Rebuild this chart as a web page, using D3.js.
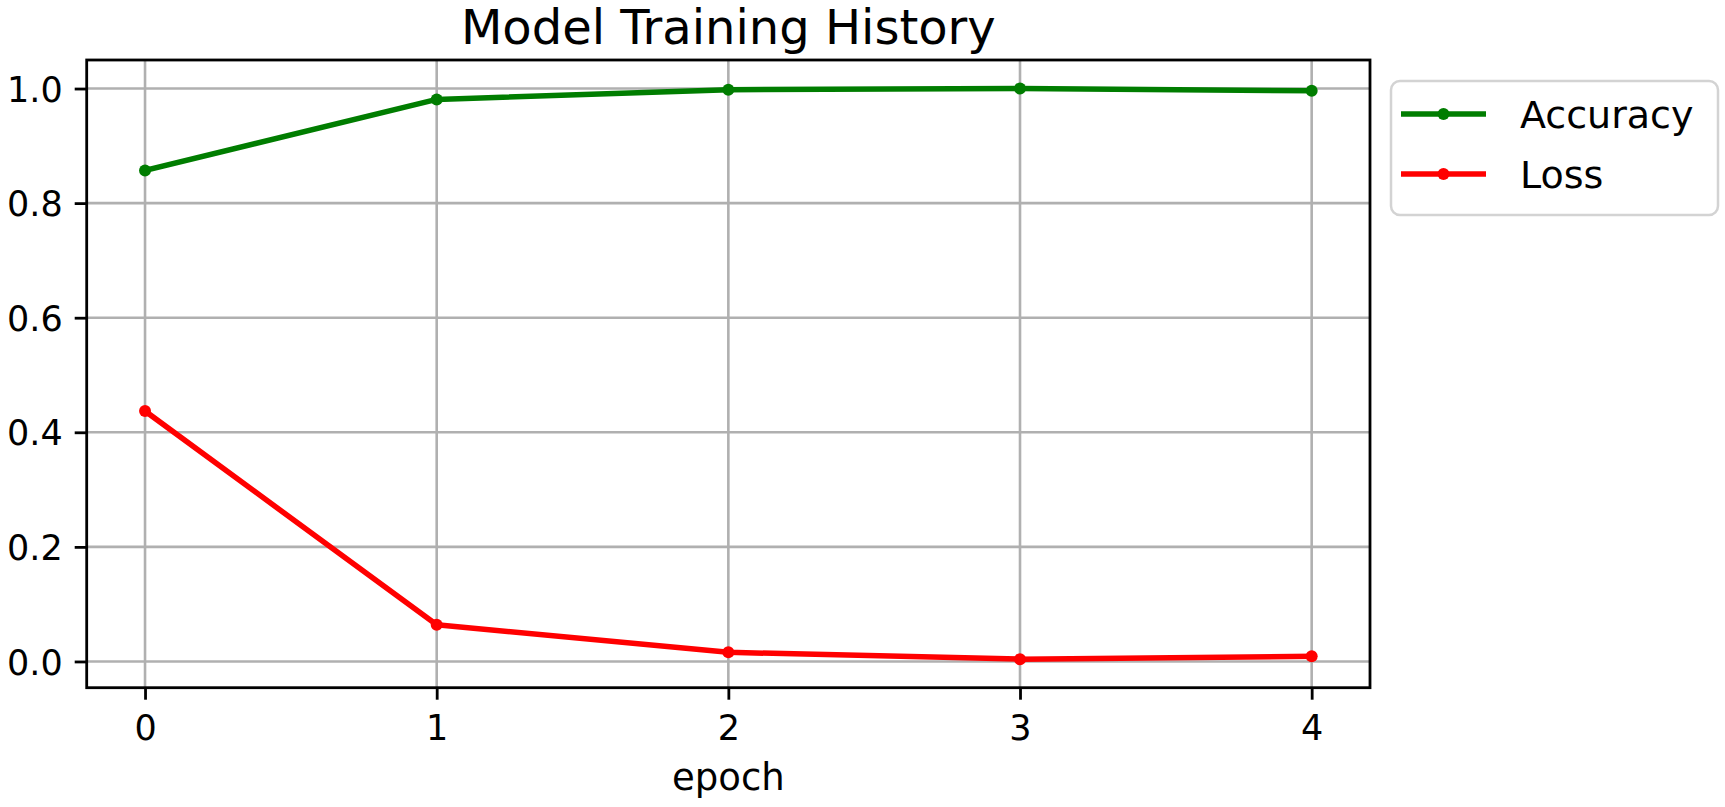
<!DOCTYPE html>
<html><head><meta charset="utf-8">
<script src="https://cdn.jsdelivr.net/npm/d3@7"></script>
<style>
body{margin:0;background:#fff}
svg{display:block}
text{font-family:"DejaVu Sans",sans-serif;fill:#000}
</style>
</head><body><svg id="chart" width="1725" height="807"></svg>
<script>
// ---- data ----
const chartTitle = "Model Training History";
const xLabel = "epoch";
const epochs = [0, 1, 2, 3, 4];
const accuracy = [0.857, 0.981, 0.998, 1.000, 0.996];
const loss = [0.437, 0.064, 0.016, 0.004, 0.009];
const seriesNames = ["Accuracy", "Loss"];
const seriesColors = ["#007d00", "#ff0000"];
const xTicks = [0, 1, 2, 3, 4];
const yTicks = [0.0, 0.2, 0.4, 0.6, 0.8, 1.0];

// ---- layout ----
const m = {left: 86.7, right: 1370, top: 60, bottom: 687.7};
const svg = d3.select("#chart");
svg.append("rect").attr("width", 1725).attr("height", 807).attr("fill", "#fff");

const [yMin, yMax] = d3.extent(accuracy.concat(loss));
const yPad = (yMax - yMin) * 0.05;
const [xMin, xMax] = d3.extent(epochs);
const xPad = (xMax - xMin) * 0.05;
const x = d3.scaleLinear().domain([xMin - xPad, xMax + xPad]).range([m.left, m.right]);
const y = d3.scaleLinear().domain([yMin - yPad, yMax + yPad]).range([m.bottom, m.top]);

const gridColor = "#b0b0b0", gridW = 2.6;

// grid
const grid = svg.append("g");
grid.selectAll("line.v").data(xTicks).join("line")
  .attr("x1", d => x(d)).attr("x2", d => x(d))
  .attr("y1", m.top).attr("y2", m.bottom)
  .attr("stroke", gridColor).attr("stroke-width", gridW);
grid.selectAll("line.h").data(yTicks).join("line")
  .attr("y1", d => y(d)).attr("y2", d => y(d))
  .attr("x1", m.left).attr("x2", m.right)
  .attr("stroke", gridColor).attr("stroke-width", gridW);

// series
const series = [accuracy, loss];
const lineGen = d3.line().x((d, i) => x(epochs[i])).y(d => y(d));
series.forEach((vals, si) => {
  svg.append("path").datum(vals)
    .attr("d", lineGen)
    .attr("fill", "none")
    .attr("stroke", seriesColors[si])
    .attr("stroke-width", 5.5)
    .attr("stroke-linejoin", "round")
    .attr("stroke-linecap", "square");
  svg.append("g").selectAll("circle").data(vals).join("circle")
    .attr("cx", (d, i) => x(epochs[i]))
    .attr("cy", d => y(d))
    .attr("r", 6)
    .attr("fill", seriesColors[si]);
});

// axes
const fs = 35;
const yAxis = svg.append("g").attr("transform", `translate(${m.left},0)`)
  .call(d3.axisLeft(y).tickValues(yTicks).tickFormat(d3.format(".1f")).tickSize(12).tickPadding(12));
yAxis.select(".domain").remove();
yAxis.selectAll(".tick line").attr("stroke", "#000").attr("stroke-width", 2.8);
yAxis.selectAll(".tick text").attr("font-size", fs).attr("dy", "0.36em")
  .style("font-family", "DejaVu Sans");

const xAxis = svg.append("g").attr("transform", `translate(0,${m.bottom})`)
  .call(d3.axisBottom(x).tickValues(xTicks).tickFormat(d3.format("d")).tickSize(12).tickPadding(15));
xAxis.select(".domain").remove();
xAxis.selectAll(".tick line").attr("stroke", "#000").attr("stroke-width", 2.8);
xAxis.selectAll(".tick text").attr("font-size", fs).attr("dy", "0.71em")
  .style("font-family", "DejaVu Sans");

// spines
svg.append("rect")
  .attr("x", m.left).attr("y", m.top)
  .attr("width", m.right - m.left).attr("height", m.bottom - m.top)
  .attr("fill", "none").attr("stroke", "#000").attr("stroke-width", 2.8);

// title and label
svg.append("text").attr("x", (m.left + m.right) / 2).attr("y", 44)
  .attr("text-anchor", "middle").attr("font-size", 48).text(chartTitle);
svg.append("text").attr("x", (m.left + m.right) / 2).attr("y", 790)
  .attr("text-anchor", "middle").attr("font-size", 37).text(xLabel);

// legend
const lg = svg.append("g");
lg.append("rect").attr("x", 1391).attr("y", 81).attr("width", 327).attr("height", 134)
  .attr("rx", 9).attr("fill", "#fff").attr("fill-opacity", 0.8)
  .attr("stroke", "#d3d3d3").attr("stroke-width", 2.5);
seriesNames.forEach((name, i) => {
  const ly = 114 + i * 60;
  lg.append("line").attr("x1", 1401).attr("x2", 1486).attr("y1", ly).attr("y2", ly)
    .attr("stroke", seriesColors[i]).attr("stroke-width", 5.5);
  lg.append("circle").attr("cx", 1443.5).attr("cy", ly).attr("r", 6).attr("fill", seriesColors[i]);
  lg.append("text").attr("x", 1520).attr("y", ly).attr("dy", "0.36em")
    .attr("font-size", 38).text(name);
});
</script>
</body></html>
